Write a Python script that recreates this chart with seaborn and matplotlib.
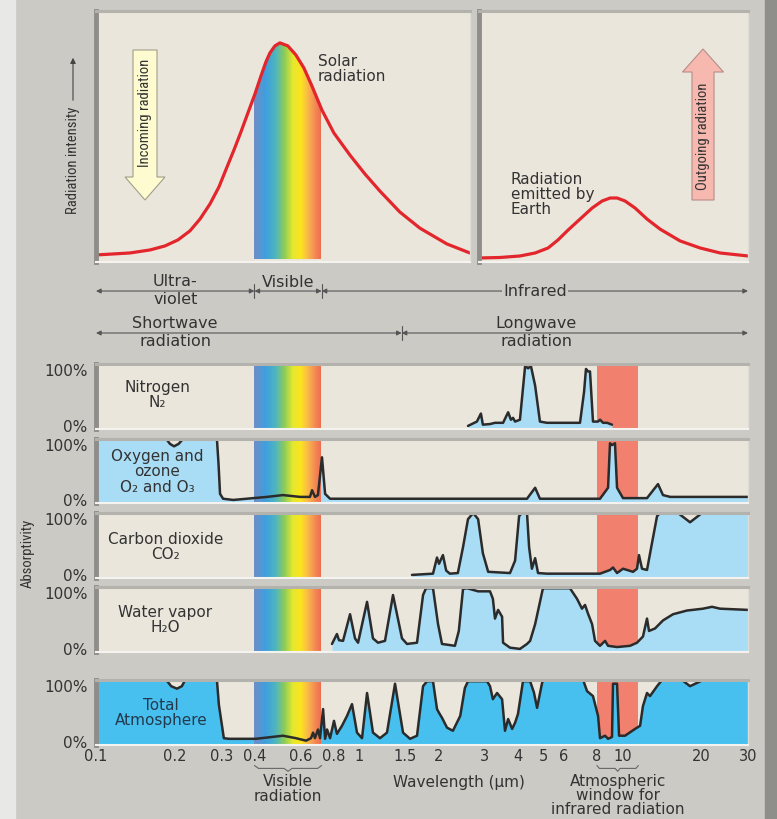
import numpy as np
import matplotlib
matplotlib.use("Agg")
import matplotlib.pyplot as plt
import matplotlib.transforms as mtransforms
from matplotlib.colors import LinearSegmentedColormap
from matplotlib.patches import Rectangle, FancyArrow, FancyArrowPatch
from matplotlib.ticker import NullLocator
import seaborn as sns

sns.set_theme(style="white")
plt.rcParams['font.family'] = ['DejaVu Sans']
NARROW = ['Roboto Condensed', 'Liberation Sans Narrow', 'DejaVu Sans']

# ---------------------------------------------------------------- data
# radiation intensity (relative), wavelength in micrometres
solar_wl = [0.1, 0.1346, 0.1604, 0.1829, 0.2049, 0.2276, 0.2484, 0.2711, 0.2933, 0.3146,
            0.3344, 0.3555, 0.378, 0.4018, 0.4236, 0.4424, 0.4583, 0.4787, 0.500, 0.536,
            0.575, 0.617, 0.662, 0.722, 0.802, 0.923, 1.052, 1.199, 1.429, 1.702,
            2.156, 2.636]
solar_int = [0.028, 0.036, 0.048, 0.064, 0.088, 0.124, 0.171, 0.231, 0.299, 0.378,
             0.446, 0.518, 0.594, 0.669, 0.741, 0.797, 0.833, 0.861, 0.873, 0.861,
             0.825, 0.773, 0.701, 0.606, 0.514, 0.426, 0.351, 0.283, 0.199, 0.135,
             0.072, 0.036]
earth_wl = [2.852, 3.43, 4.08, 4.66, 5.22, 5.69, 6.21, 6.90, 7.67, 8.37,
            8.98, 9.54, 10.23, 11.17, 12.40, 13.90, 16.56, 19.71, 23.49, 30.0]
earth_int = [0.016, 0.018, 0.024, 0.036, 0.056, 0.088, 0.127, 0.171, 0.215, 0.243,
             0.255, 0.255, 0.243, 0.215, 0.171, 0.131, 0.084, 0.056, 0.036, 0.024]

# absorptivity (0 = 0%, 1 = 100%)
n2_wl = [2.59, 2.80, 2.90, 2.95, 3.14, 3.28, 3.52, 3.68, 3.77, 3.84,
         3.91, 4.08, 4.27, 4.38, 4.49, 4.66, 4.86, 5.17, 6.90, 7.15,
         7.27, 7.40, 7.53, 7.73, 8.08, 8.22, 8.44, 8.74, 9.13]
n2_abs = [0.00, 0.07, 0.20, 0.02, 0.03, 0.05, 0.05, 0.22, 0.10, 0.13,
          0.07, 0.10, 0.97, 0.93, 0.97, 0.65, 0.07, 0.05, 0.05, 0.55,
          0.92, 0.88, 0.88, 0.07, 0.07, 0.10, 0.05, 0.05, 0.02]

o2_wl = [0.10, 0.185, 0.191, 0.198, 0.206, 0.214, 0.288, 0.292, 0.296, 0.304,
         0.332, 0.446, 0.513, 0.596, 0.650, 0.662, 0.679, 0.697, 0.722, 0.742,
         0.775, 4.34, 4.66, 4.86, 8.22, 8.82, 8.97, 9.13, 9.37, 9.54,
         10.05, 12.4, 13.65, 14.26, 15.2, 30.0]
o2_abs = [1.00, 1.00, 0.92, 0.88, 0.92, 1.00, 1.00, 0.60, 0.10, 0.02,
          0.00, 0.05, 0.08, 0.05, 0.05, 0.16, 0.05, 0.08, 0.70, 0.10,
          0.02, 0.02, 0.20, 0.02, 0.02, 0.20, 0.93, 0.90, 0.93, 0.20,
          0.03, 0.03, 0.26, 0.08, 0.05, 0.05]

co2_wl = [1.587, 1.907, 1.975, 2.01, 2.08, 2.14, 2.21, 2.37, 2.48, 2.59,
          2.71, 2.83, 2.95, 3.09, 3.74, 3.91, 4.05, 4.15, 4.34, 4.42,
          4.53, 4.66, 4.78, 5.17, 8.22, 8.98, 9.21, 9.54, 10.05, 10.97,
          11.36, 11.56, 11.87, 12.40, 12.96, 13.54, 13.90, 16.26, 18.07, 20.06,
          30.0]
co2_abs = [0.00, 0.02, 0.28, 0.18, 0.32, 0.07, 0.02, 0.03, 0.45, 0.90,
           1.00, 0.90, 0.35, 0.05, 0.03, 0.23, 0.95, 1.00, 1.00, 0.45,
           0.10, 0.27, 0.03, 0.02, 0.02, 0.08, 0.12, 0.03, 0.10, 0.05,
           0.10, 0.32, 0.10, 0.08, 0.52, 0.95, 1.00, 1.00, 0.85, 1.00,
           1.00]

h2o_wl = [0.788, 0.823, 0.838, 0.868, 0.923, 0.964, 0.990, 1.071, 1.128, 1.179,
          1.253, 1.344, 1.454, 1.519, 1.658, 1.748, 1.794, 1.907, 1.993, 2.063,
          2.31, 2.39, 2.48, 2.57, 2.83, 3.14, 3.22, 3.28, 3.37, 3.49,
          3.52, 3.74, 4.08, 4.34, 4.46, 4.66, 4.99, 6.32, 6.72, 7.02,
          7.21, 7.40, 7.67, 7.87, 8.22, 8.59, 8.82, 9.54, 10.69, 11.36,
          11.97, 12.40, 12.62, 13.30, 14.26, 15.57, 17.60, 20.25, 21.90, 23.49,
          30.0]
h2o_abs = [0.08, 0.24, 0.14, 0.13, 0.56, 0.17, 0.10, 0.76, 0.17, 0.10,
           0.13, 0.87, 0.17, 0.08, 0.10, 0.87, 0.98, 0.98, 0.40, 0.08,
           0.05, 0.29, 0.97, 0.98, 0.93, 0.93, 0.81, 0.49, 0.63, 0.52,
           0.10, 0.02, 0.00, 0.08, 0.13, 0.40, 0.98, 0.98, 0.81, 0.65,
           0.71, 0.57, 0.40, 0.13, 0.05, 0.13, 0.05, 0.03, 0.05, 0.10,
           0.20, 0.49, 0.29, 0.33, 0.46, 0.56, 0.62, 0.65, 0.68, 0.65,
           0.63]

total_wl = [0.10, 0.185, 0.193, 0.203, 0.212, 0.218, 0.288, 0.293, 0.306, 0.320,
            0.405, 0.513, 0.575, 0.628, 0.656, 0.668, 0.679, 0.697, 0.710, 0.729,
            0.742, 0.755, 0.775, 0.802, 0.823, 0.860, 0.899, 0.939, 0.981, 1.025,
            1.071, 1.128, 1.199, 1.275, 1.368, 1.467, 1.560, 1.658, 1.748, 1.810,
            1.907, 1.975, 2.01, 2.063, 2.156, 2.27, 2.42, 2.52, 2.59, 3.06,
            3.14, 3.22, 3.34, 3.49, 3.58, 3.68, 3.81, 3.91, 4.01, 4.19,
            4.46, 4.61, 4.74, 4.95, 5.00, 7.09, 7.34, 7.73, 8.08, 8.22,
            8.59, 8.82, 9.13, 9.21, 9.54, 9.71, 10.23, 11.17, 11.67, 11.97,
            12.40, 12.73, 13.54, 14.14, 16.84, 18.07, 20.25, 30.0]
total_abs = [1.00, 1.00, 0.90, 0.86, 0.90, 1.00, 1.00, 0.60, 0.06, 0.05,
             0.05, 0.10, 0.06, 0.02, 0.06, 0.15, 0.06, 0.20, 0.06, 0.53,
             0.05, 0.20, 0.06, 0.34, 0.13, 0.26, 0.42, 0.61, 0.15, 0.06,
             0.79, 0.15, 0.06, 0.15, 0.94, 0.15, 0.05, 0.10, 0.90, 0.98,
             0.98, 0.53, 0.47, 0.39, 0.23, 0.18, 0.42, 0.87, 0.98, 0.98,
             0.90, 0.69, 0.79, 0.69, 0.18, 0.37, 0.21, 0.31, 0.45, 0.98,
             0.98, 0.80, 0.55, 0.95, 1.00, 1.00, 0.82, 0.74, 0.42, 0.06,
             0.10, 0.05, 0.08, 0.94, 0.94, 0.10, 0.10, 0.21, 0.26, 0.58,
             0.79, 0.74, 0.90, 1.00, 1.00, 0.90, 1.00, 1.00]

# band limits (micrometres)
uv_vis, vis_ir = 0.4, 0.72
short_long = 1.45
window = (8.0, 11.5)
sun_xmax, earth_xmin = 2.64, 2.85
xtick_values = [0.1, 0.2, 0.3, 0.4, 0.6, 0.8, 1, 1.5, 2, 3, 4, 5, 6, 8, 10, 20, 30]
xtick_labels = ["0.1", "0.2", "0.3", "0.4", "0.6", "0.8", "1", "1.5", "2",
                "3", "4", "5", "6", "8", "10", "20", "30"]

# ---------------------------------------------------------------- style
BG = '#cbcac5'
BEIGE = '#ebe6dc'
GAS_BLUE = '#a9ddf5'
TOTAL_BLUE = '#47c0ef'
WINDOW_RED = '#f2806f'
CURVE = '#2b2b2b'
SUN_RED = '#e2262c'
TXT = '#333333'
FS = 11
rainbow = LinearSegmentedColormap.from_list(
    'visible', ['#6d8ec6', '#3f9fe0', '#4db5bf', '#8ecc58', '#e6e82f',
                '#fbe41f', '#f9b74a', '#f38a55', '#ee6a4f'])
grad = np.linspace(0, 1, 256)[None, :]

W, H = 777, 819
PIX = mtransforms.IdentityTransform()


def box(x0, y0, x1, y1):
    return [x0 / W, 1 - y1 / H, (x1 - x0) / W, (y1 - y0) / H]


def panel_frame(ax):
    ax.set_facecolor(BEIGE)
    ax.set_axisbelow(False)
    specs = {'left': ('#8e8d89', 3.5), 'top': ('#b3b2ad', 2.2),
             'bottom': ('#f4f3ef', 1.5), 'right': ('#dddcd7', 1.0)}
    for side, (c, lw) in specs.items():
        sp = ax.spines[side]
        sp.set_visible(True)
        sp.set_color(c)
        sp.set_linewidth(lw)
        sp.set_zorder(6)
    ax.set_xscale('log')
    ax.xaxis.set_minor_locator(NullLocator())
    ax.tick_params(which='both', length=0, labelbottom=False, labelleft=False)


def brace(ax, x0, x1, y, d=0.045):
    tr = mtransforms.blended_transform_factory(ax.transData, ax.transAxes)
    xm = np.sqrt(x0 * x1)
    r = (x1 / x0) ** 0.06
    xs = [x0, x0 * r, xm / r, xm, xm * r, x1 / r, x1]
    ys = [y + d, y, y, y - d, y, y, y + d]
    ax.plot(xs, ys, color='#666666', lw=0.8, transform=tr, clip_on=False)


fig = plt.figure(figsize=(W / 100, H / 100), dpi=100, facecolor=BG)
fig.add_artist(Rectangle((0, 0), 15, H, transform=PIX, color='#e8e8e6', zorder=0))
fig.add_artist(Rectangle((765, 0), 12, H, transform=PIX, color='#8e8e8b', zorder=0))

# ---------------------------------------------------------------- top panels
ax_sun = fig.add_axes(box(96, 11, 470, 262))
ax_earth = fig.add_axes(box(479, 11, 748, 262))
for ax in (ax_sun, ax_earth):
    panel_frame(ax)

poly = ax_sun.fill_between(solar_wl, 0, solar_int, color='none', lw=0)
im = ax_sun.imshow(grad, extent=[uv_vis, vis_ir, 0.012, 1], aspect='auto',
                   cmap=rainbow, zorder=1.5, interpolation='bilinear')
im.set_clip_path(poly.get_paths()[0], ax_sun.transData)
sns.lineplot(x=solar_wl, y=solar_int, ax=ax_sun, color=SUN_RED, lw=2.3,
             sort=False, estimator=None, zorder=4)
sns.lineplot(x=earth_wl, y=earth_int, ax=ax_earth, color=SUN_RED, lw=2.3,
             sort=False, estimator=None, zorder=4)
ax_sun.set_xlim(0.1, sun_xmax)
ax_earth.set_xlim(earth_xmin, 30)
for ax in (ax_sun, ax_earth):
    ax.set_ylim(0, 1)
    ax.set_xlabel('')
    ax.set_ylabel('')

fig.text(318 / W, 1 - 54 / H, "Solar\nradiation", ha='left', va='top',
         fontsize=FS, color=TXT, linespacing=1.0)
fig.text(511 / W, 1 - 172 / H, "Radiation\nemitted by\nEarth", ha='left', va='top',
         fontsize=FS, color=TXT, linespacing=1.0)

fig.add_artist(FancyArrow(145, H - 50, 0, -150, width=24, head_width=40, head_length=23,
                          length_includes_head=True, transform=PIX,
                          fc='#fdfbcf', ec='#a09f88', lw=0.8))
fig.text(145 / W, 1 - 113 / H, "Incoming radiation", rotation=90, ha='center', va='center',
         family=NARROW, fontstretch='condensed', fontsize=10.5, color=TXT)
fig.add_artist(FancyArrow(703, H - 200, 0, 151, width=22, head_width=41, head_length=23,
                          length_includes_head=True, transform=PIX,
                          fc='#f7b9af', ec='#b58d88', lw=0.8))
fig.text(703 / W, 1 - 136 / H, "Outgoing radiation", rotation=90, ha='center', va='center',
         family=NARROW, fontstretch='condensed', fontsize=10.5, color=TXT)

fig.text(73 / W, 1 - 160 / H, "Radiation intensity", rotation=90, ha='center', va='center',
         family=NARROW, fontstretch='condensed', fontsize=10.5, color=TXT)
fig.add_artist(FancyArrowPatch((73, H - 103), (73, H - 55), transform=PIX,
                               arrowstyle='-|>', mutation_scale=8, color='#444444', lw=0.8))

# ---------------------------------------------------------------- band labels
ax_band = fig.add_axes(box(96, 272, 748, 350))
ax_band.set_xscale('log')
ax_band.set_xlim(0.1, 30)
ax_band.set_ylim(0, 1)
ax_band.axis('off')
arrow_kw = dict(arrowstyle='<|-|>', color='#555555', lw=0.8, mutation_scale=7,
                shrinkA=0, shrinkB=0)
y1, y2 = 0.756, 0.218
for a, b in [(0.1, uv_vis), (uv_vis, vis_ir), (vis_ir, 30)]:
    ax_band.annotate('', xy=(a, y1), xytext=(b, y1), arrowprops=arrow_kw)
for a, b in [(0.1, short_long), (short_long, 30)]:
    ax_band.annotate('', xy=(a, y2), xytext=(b, y2), arrowprops=arrow_kw)
for b, y in [(uv_vis, y1), (vis_ir, y1), (short_long, y2)]:
    ax_band.plot([b, b], [y - 0.09, y + 0.09], color='#555555', lw=0.8)
band_txt = dict(ha='center', va='center', fontsize=11.5, color=TXT, linespacing=1.2)
ax_band.text(0.2, 0.763, "Ultra-\nviolet", **band_txt)
ax_band.text(np.sqrt(uv_vis * vis_ir), 0.87, "Visible", **band_txt)
ax_band.text(np.sqrt(vis_ir * 30), y1, "Infrared",
             bbox=dict(facecolor=BG, edgecolor='none', pad=1.0), **band_txt)
ax_band.text(0.2, 0.224, "Shortwave\nradiation", **band_txt)
ax_band.text(4.7, 0.224, "Longwave\nradiation", **band_txt)

# ---------------------------------------------------------------- absorption rows
rows = [
    (364, 429, n2_wl, n2_abs, GAS_BLUE, "Nitrogen\nN₂", 157, 395, TXT),
    (439, 503, o2_wl, o2_abs, GAS_BLUE, "Oxygen and\nozone\nO₂ and O₃", 157, 472, TXT),
    (513, 578, co2_wl, co2_abs, GAS_BLUE, "Carbon dioxide\nCO₂", 166, 547, TXT),
    (587, 652, h2o_wl, h2o_abs, GAS_BLUE, "Water vapor\nH₂O", 165, 620, TXT),
    (680, 745, total_wl, total_abs, TOTAL_BLUE, "Total\nAtmosphere", 161, 713, '#23394d'),
]
YLO = -0.05
for top, bot, wl, ab, fillc, label, lx, ly, lc in rows:
    ax = fig.add_axes(box(96, top, 748, bot))
    panel_frame(ax)
    ax.axvspan(window[0], window[1], color=WINDOW_RED, lw=0, zorder=1.5)
    ax.fill_between(wl, YLO, ab, color=fillc, lw=0, zorder=2)
    ax.imshow(grad, extent=[uv_vis, vis_ir, YLO, 1.0], aspect='auto', cmap=rainbow,
              zorder=3, interpolation='bilinear')
    sns.lineplot(x=wl, y=ab, ax=ax, color=CURVE, lw=1.8, sort=False,
                 estimator=None, zorder=4)
    ax.set_xlim(0.1, 30)
    ax.set_ylim(YLO, 1.0)
    ax.set_xlabel('')
    ax.set_ylabel('')
    ax.set_yticks([0, 1])
    ax.set_yticklabels(["0%", "100%"])
    ax.tick_params(axis='y', labelleft=True, length=0, pad=6, labelsize=FS,
                   labelcolor=TXT)
    tl = ax.get_yticklabels()
    tl[1].set_va('top')
    fig.text(lx / W, 1 - ly / H, label, ha='center', va='center', fontsize=FS,
             color=lc, linespacing=1.05)
    ax_last = ax

# x axis on the bottom (total atmosphere) panel
ax_last.set_xticks(xtick_values)
ax_last.set_xticklabels(xtick_labels)
ax_last.xaxis.set_minor_locator(NullLocator())
ax_last.tick_params(axis='x', which='major', labelbottom=True, direction='in', length=4,
                    width=0.8, color='#4a6c84', pad=3, labelsize=10.5, labelcolor=TXT)

tr = mtransforms.blended_transform_factory(ax_last.transData, ax_last.transAxes)
brace(ax_last, uv_vis, vis_ir, -0.36)
brace(ax_last, window[0], window[1], -0.36)
ax_last.text(np.sqrt(uv_vis * vis_ir), -0.44, "Visible\nradiation", transform=tr,
             ha='center', va='top', fontsize=FS, color=TXT, linespacing=1.0)
ax_last.text(np.sqrt(window[0] * window[1]), -0.44, "Atmospheric\nwindow for\ninfrared radiation",
             transform=tr, ha='center', va='top', fontsize=FS, color=TXT, linespacing=0.95)
ax_last.text(2.4, -0.57, "Wavelength (μm)", transform=tr, ha='center', va='center',
             fontsize=FS, color=TXT)

fig.text(28 / W, 1 - 553 / H, "Absorptivity", rotation=90, ha='center', va='center',
         family=NARROW, fontstretch='condensed', fontsize=10.5, color=TXT)

fig.savefig("out.png", dpi=100, facecolor=BG)
